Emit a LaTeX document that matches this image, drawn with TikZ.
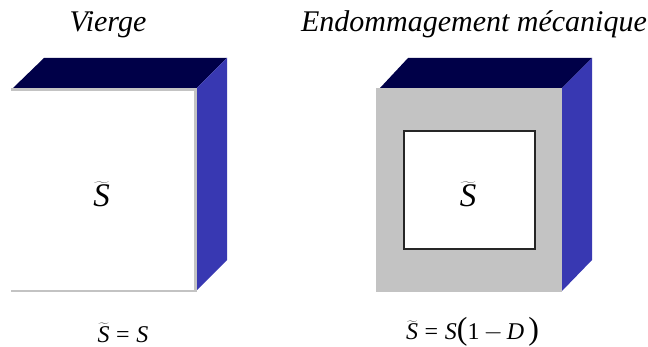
\documentclass[tikz,border=0pt]{standalone}
\usepackage{fontspec}
\setmainfont{Liberation Serif}
\usepackage{tikz}
\usetikzlibrary{positioning}
\definecolor{topface}{RGB}{0,0,72}
\definecolor{sideface}{RGB}{56,56,178}
\definecolor{damage}{RGB}{195,195,195}
\newcommand{\Stilde}{\ensuremath{\widetilde{\textit{S}}}}
\tikzset{
  titlelabel/.style={font=\fontsize{30}{32}\selectfont\itshape,anchor=base},
  formula/.style={font=\fontsize{24}{26}\selectfont,anchor=base},
  arealabel/.style={font=\fontsize{33}{36}\selectfont,anchor=base},
}

\begin{document}
\begin{tikzpicture}[x=1pt,y=-1pt]
 \useasboundingbox (0,0) rectangle (648,347);
 % virgin block
 \fill[topface] (13,88) -- (44,58) -- (227,58) -- (197,88) -- cycle;
 \fill[sideface] (197,88) -- (227,58) -- (227,260) -- (197,290) -- cycle;
 \draw[damage,line width=2.5pt] (11,89.5) -- (195.5,89.5) -- (195.5,291) -- (11,291);
 \node[titlelabel] (titleA) at (108,32) {Vierge};
 \node[arealabel] (areaA) at (101.5,207) {\Stilde};
 \node[formula] (formulaA) at (123,342) {\Stilde\;=\;\textit{S}};
 % damaged block
 \fill[topface] (380,88) -- (408,58) -- (592,58) -- (562,88) -- cycle;
 \fill[sideface] (562,88) -- (592,58) -- (592,260) -- (562,291) -- cycle;
 \fill[damage] (376,88) rectangle (562,292);
 \draw[black!85,fill=white,line width=1.2pt] (404,131) rectangle (535,249);
 \node[titlelabel] (titleB) at (474,32) {Endommagement mécanique};
 \node[arealabel] (areaB) at (468,207) {\Stilde};
 \node[formula] (formulaB) at (472.5,340) {\Stilde\;=\;\textit{S}{\fontsize{32}{34}\selectfont(}1\,$-$\,\textit{D}\,{\fontsize{32}{34}\selectfont)}};
\end{tikzpicture}
\end{document}
